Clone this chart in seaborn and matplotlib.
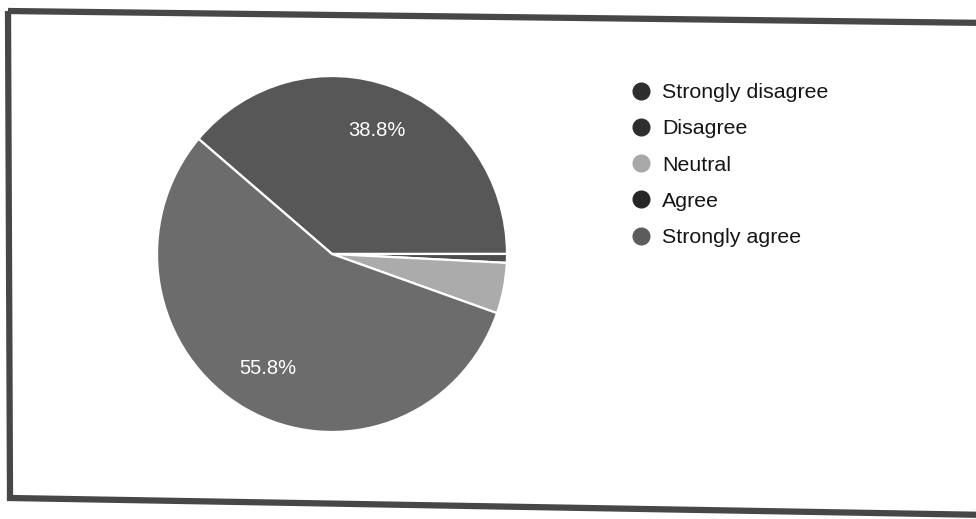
import matplotlib
matplotlib.use("Agg")
import matplotlib.pyplot as plt
import seaborn as sns
from matplotlib.lines import Line2D
from matplotlib.patches import Polygon

# legend order as in the form
categories = ["Strongly disagree", "Disagree", "Neutral", "Agree", "Strongly agree"]
legend_colors = ["#2e2e2e", "#2e2e2e", "#a8a8a8", "#262626", "#5c5c5c"]

# slices drawn clockwise, starting at the upper left
slice_names = ["Agree", "Disagree", "Neutral", "Strongly agree"]
slice_values = [38.8, 0.8, 4.6, 55.8]
slice_colors = ["#575757", "#4c4c4c", "#ababab", "#6c6c6c"]

sns.set_theme(style="white")
plt.rcParams["font.family"] = ["Liberation Sans", "DejaVu Sans"]

W, H = 976, 519
fig = plt.figure(figsize=(W / 100, H / 100), dpi=100)
fig.patch.set_facecolor("white")

# scanned frame, slightly skewed
frame = [(8, 11), (990, 23), (990, 515), (10, 498)]
fig.patches.append(Polygon([(x / W, 1 - y / H) for x, y in frame], closed=True,
                           fill=False, edgecolor="#474747", linewidth=4.5,
                           transform=fig.transFigure, figure=fig))

cx, cy, rx, ry = 332, 254, 175, 178
ax = fig.add_axes([(cx - rx) / W, 1 - (cy + ry) / H, 2 * rx / W, 2 * ry / H])

wedges, texts, autotexts = ax.pie(
    slice_values,
    colors=slice_colors,
    startangle=139.7,
    counterclock=False,
    autopct=lambda p: f"{p:.1f}%" if p > 10 else "",
    pctdistance=0.74,
    wedgeprops=dict(edgecolor="white", linewidth=1.6),
    textprops=dict(color="white", fontsize=14.5),
)
ax.set_aspect("auto")
ax.set_xlim(-1, 1)
ax.set_ylim(-1, 1)
ax.axis("off")

handles = [Line2D([], [], marker="o", linestyle="", markersize=12,
                  markerfacecolor=c, markeredgecolor=c) for c in legend_colors]
fig.legend(handles, categories, loc="upper left",
           bbox_to_anchor=(629 / W, 1 - 83 / H), frameon=False,
           fontsize=15.4, labelspacing=0.81, handletextpad=0.45,
           handlelength=1.1, borderpad=0, borderaxespad=0,
           labelcolor="#151515")

fig.savefig("out.png", dpi=100, facecolor="white")
